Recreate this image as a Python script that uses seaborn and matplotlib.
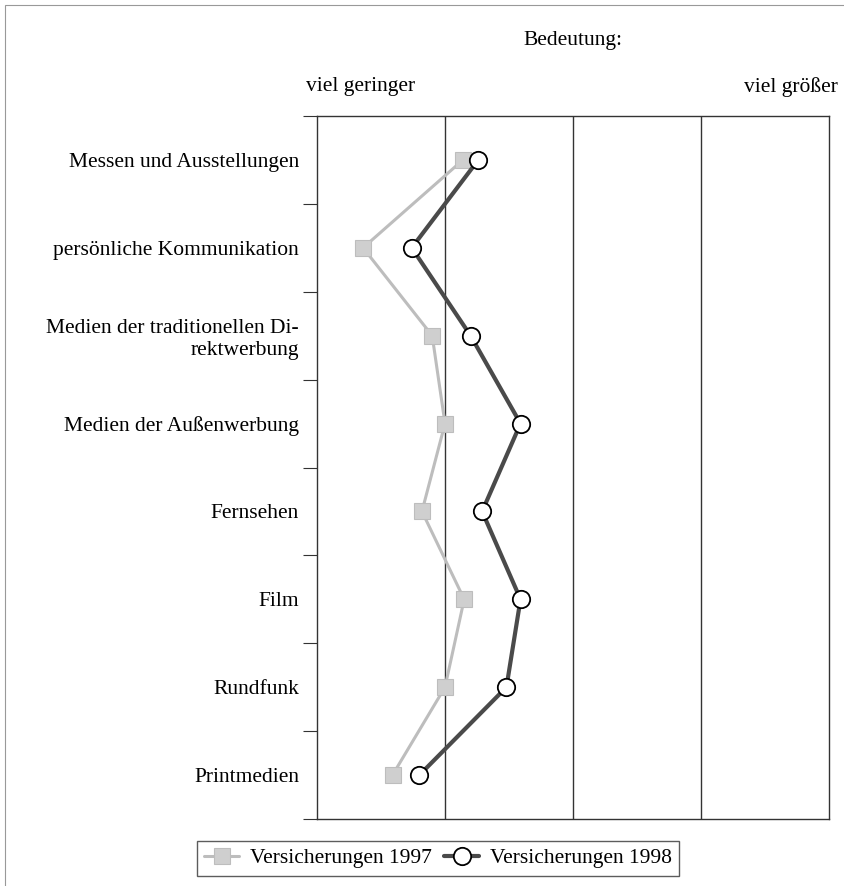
import matplotlib
matplotlib.use('Agg')

import matplotlib.pyplot as plt
import seaborn as sns
import pandas as pd
from matplotlib.patches import Rectangle

categories = [
    "Messen und Ausstellungen",
    "persönliche Kommunikation",
    "Medien der traditionellen Di-\nrektwerbung",
    "Medien der Außenwerbung",
    "Fernsehen",
    "Film",
    "Rundfunk",
    "Printmedien",
]
werte_1997 = [2.14, 1.36, 1.90, 2.00, 1.82, 2.15, 2.00, 1.59]
werte_1998 = [2.26, 1.74, 2.20, 2.59, 2.29, 2.59, 2.48, 1.80]
serie_1997 = "Versicherungen 1997"
serie_1998 = "Versicherungen 1998"

sns.set_style("white")
plt.rcParams['font.family'] = ['Liberation Serif', 'DejaVu Serif']
plt.rcParams['font.size'] = 15.5
plt.rcParams['text.color'] = 'black'
plt.rcParams['ytick.color'] = 'black'
plt.rcParams['ytick.labelcolor'] = 'black'

df = pd.DataFrame({
    "pos": list(range(len(categories))) * 2,
    "wert": werte_1997 + werte_1998,
    "serie": [serie_1997] * len(categories) + [serie_1998] * len(categories),
})

fig = plt.figure(figsize=(8.45, 8.86), dpi=100)
ax = fig.add_axes([317 / 845, 1 - 819 / 886, 512 / 845, 703 / 886])

# light stippled series 1997
sns.lineplot(data=df[df.serie == serie_1997], x="wert", y="pos", sort=False,
             orient="y", ax=ax, color="#bdbdbd", linewidth=2.2,
             marker="s", markersize=12, markerfacecolor="#cfcfcf",
             markeredgecolor="#bdbdbd", markeredgewidth=0.8, label=serie_1997)
# dark series 1998 with open circles
sns.lineplot(data=df[df.serie == serie_1998], x="wert", y="pos", sort=False,
             orient="y", ax=ax, color="#4a4a4a", linewidth=3,
             marker="o", markersize=12.5, markerfacecolor="white",
             markeredgecolor="black", markeredgewidth=1.3, label=serie_1998)

ax.set_xlim(1, 5)
ax.set_ylim(len(categories) - 0.5, -0.5)
ax.set_xticks([])
ax.set_xlabel("")
ax.set_ylabel("")
for x in [2, 3, 4]:
    ax.axvline(x, color="#333333", linewidth=1, zorder=0)
for s in ax.spines.values():
    s.set_color("#333333")
    s.set_linewidth(1)

ax.set_yticks(range(len(categories)))
ax.set_yticklabels(categories, ha="right")
ax.tick_params(axis="y", which="major", left=True, length=0, pad=13)
ax.set_yticks([i - 0.5 for i in range(len(categories) + 1)], minor=True)
ax.tick_params(axis="y", which="minor", left=True, length=10, width=0.8,
               color="#333333")

fig.text(573 / 845, 1 - 40 / 886, "Bedeutung:", ha="center", va="center")
fig.text(306 / 845, 1 - 87 / 886, "viel geringer", ha="left", va="center")
fig.text(838 / 845, 1 - 87 / 886, "viel größer", ha="right", va="center")

ax.get_legend().remove()
handles, labels = ax.get_legend_handles_labels()
leg = fig.legend(handles, labels, loc="lower center", ncol=2,
                 bbox_to_anchor=(438 / 845, 10 / 886), frameon=True,
                 fancybox=False, handlelength=1.6, handletextpad=0.5,
                 columnspacing=0.6, borderpad=0.35, borderaxespad=0)
leg.get_frame().set_edgecolor("#333333")
leg.get_frame().set_linewidth(1)

fig.patches.append(Rectangle((5 / 845, -0.1), 1.2, 1 - 5 / 886 + 0.1,
                             transform=fig.transFigure, fill=False,
                             edgecolor="#999999", linewidth=0.8))

fig.savefig("out.png", dpi=100)
